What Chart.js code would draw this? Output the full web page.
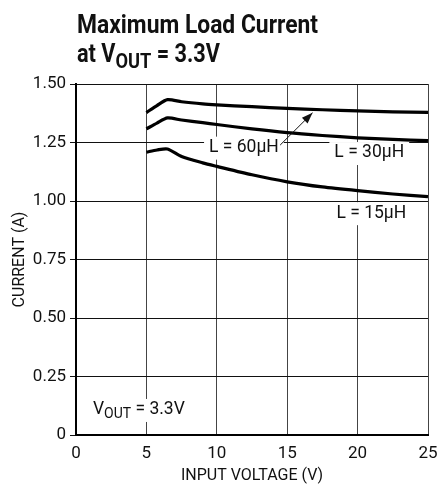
<!DOCTYPE html>
<html>
<head>
<meta charset="utf-8">
<script src="https://cdn.jsdelivr.net/npm/chart.js@4"></script>
<style>
html,body{margin:0;padding:0;background:#fff;}
canvas{display:block;}
</style>
</head>
<body>
<canvas id="c" width="437" height="490"></canvas>
<script>
// ---- data ----
const inputVoltage = [5, 5.75, 6.5, 7.5, 9, 10, 12.5, 15, 17.5, 20, 22.5, 25];
const current60uH  = [1.378, 1.408, 1.433, 1.424, 1.415, 1.411, 1.403, 1.396, 1.390, 1.385, 1.381, 1.379];
const current30uH  = [1.308, 1.333, 1.355, 1.346, 1.335, 1.327, 1.308, 1.292, 1.280, 1.270, 1.263, 1.258];
const current15uH  = [1.209, 1.218, 1.222, 1.190, 1.163, 1.148, 1.112, 1.082, 1.060, 1.044, 1.030, 1.019];
const xTicks = [0, 5, 10, 15, 20, 25];
const yTicks = [0, 0.25, 0.5, 0.75, 1.0, 1.25, 1.5];
const seriesNames = ['L = 60µH', 'L = 30µH', 'L = 15µH'];

const FONT = "Roboto,'Liberation Sans',sans-serif";

function pts(ys){ return inputVoltage.map((x,i)=>({x:x,y:ys[i]})); }

// annotation labels, anchored in data coordinates
const labels = [
  {parts:[{t:'L = 60µH'}], x:9.45, y:1.228},
  {parts:[{t:'L = 30µH'}], x:18.35, y:1.205},
  {parts:[{t:'L = 15µH'}], x:18.5, y:0.948},
  {parts:[{t:'V'},{t:'OUT',sub:true},{t:' = 3.3V'}], x:1.2, y:0.107}
];

function measureParts(ctx, parts, size, bold){
  let w=0;
  parts.forEach(p=>{ const s=p.sub?Math.round(size*0.82):size; ctx.font=(bold?'bold ':'')+s+'px '+FONT; w+=ctx.measureText(p.t).width; });
  return w;
}
function drawParts(ctx, parts, x, y, size, bold, sx){
  ctx.save();
  ctx.translate(x,y);
  ctx.scale(sx||1,1);
  let cx=0;
  parts.forEach(p=>{
    const s = p.sub?Math.round(size*0.82):size;
    ctx.font=(bold?'bold ':'')+s+'px '+FONT;
    ctx.fillText(p.t, cx, p.sub? size*0.24 : 0);
    cx+=ctx.measureText(p.t).width;
  });
  ctx.restore();
}

const overlay = {
  id:'overlay',
  afterDraw(chart){
    const ctx=chart.ctx, xs=chart.scales.x, ys=chart.scales.y;
    ctx.save();
    ctx.fillStyle='#111';
    ctx.textBaseline='alphabetic';
    ctx.textAlign='left';
    // title (condensed by horizontal scaling)
    const t1=[{t:'Maximum Load Current'}];
    const sxT = 241/measureParts(ctx,t1,25,true);
    drawParts(ctx,t1,77,33,25,true,sxT);
    drawParts(ctx,[{t:'at V'},{t:'OUT',sub:true},{t:' = 3.3V'}],77,62,25,true,sxT*0.95);
    // labels with white knock-out
    labels.forEach(l=>{
      const size=17.5;
      const w=measureParts(ctx,l.parts,size,false);
      const px=xs.getPixelForValue(l.x), py=ys.getPixelForValue(l.y);
      ctx.fillStyle='#fff';
      ctx.fillRect(px-5,py-11,w+10,23);
      ctx.fillStyle='#111';
      ctx.textBaseline='middle';
      drawParts(ctx,l.parts,px,py,size,false,1);
    });
    // arrow from 60uH label to its curve
    const ax0=xs.getPixelForValue(14.5), ay0=ys.getPixelForValue(1.239);
    const ax1=xs.getPixelForValue(16.8), ay1=ys.getPixelForValue(1.377);
    ctx.strokeStyle='#111'; ctx.lineWidth=1;
    ctx.beginPath(); ctx.moveTo(ax0,ay0); ctx.lineTo(ax1,ay1); ctx.stroke();
    const ang=Math.atan2(ay1-ay0,ax1-ax0), L=11, W=4;
    ctx.beginPath();
    ctx.moveTo(ax1,ay1);
    ctx.lineTo(ax1-L*Math.cos(ang)+W*Math.sin(ang), ay1-L*Math.sin(ang)-W*Math.cos(ang));
    ctx.lineTo(ax1-L*Math.cos(ang)-W*Math.sin(ang), ay1-L*Math.sin(ang)+W*Math.cos(ang));
    ctx.closePath(); ctx.fill();
    ctx.restore();
  }
};

const lineStyle = {borderColor:'#000', borderWidth:3.2, pointRadius:0, tension:0.25, fill:false};

new Chart(document.getElementById('c'), {
  type:'scatter',
  data:{datasets:[
    Object.assign({label:seriesNames[0], data:pts(current60uH), showLine:true}, lineStyle),
    Object.assign({label:seriesNames[1], data:pts(current30uH), showLine:true}, lineStyle),
    Object.assign({label:seriesNames[2], data:pts(current15uH), showLine:true}, lineStyle)
  ]},
  options:{
    responsive:false, animation:false, devicePixelRatio:1,
    layout:{padding:{top:84,right:0,left:6,bottom:0}},
    plugins:{legend:{display:false}, tooltip:{enabled:false}, title:{display:false}},
    scales:{
      x:{
        type:'linear', min:0, max:25,
        afterBuildTicks(s){ s.ticks=xTicks.map(v=>({value:v})); },
        afterFit(s){ s.height=55; s.paddingRight=9; s.paddingLeft=0; },
        grid:{color:'#444', lineWidth:1, drawTicks:false},
        border:{color:'#000', width:2},
        ticks:{color:'#111', padding:9, font:{family:FONT,size:17}, maxRotation:0},
        title:{display:true, text:'INPUT VOLTAGE (V)', color:'#111', font:{family:FONT,size:16}, padding:{top:9}}
      },
      y:{
        type:'linear', min:0, max:1.5,
        afterBuildTicks(s){ s.ticks=yTicks.map(v=>({value:v})); },
        afterFit(s){ s.width=70; },
        grid:{color:'#111', lineWidth:1, tickLength:6},
        border:{color:'#000', width:2},
        ticks:{color:'#111', padding:4, font:{family:FONT,size:17},
          callback:v=> v===0 ? '0' : v.toFixed(2)},
        title:{display:true, text:'CURRENT (A)', color:'#111', font:{family:FONT,size:16}, padding:{bottom:0}}
      }
    }
  },
  plugins:[overlay]
});
</script>
</body>
</html>
